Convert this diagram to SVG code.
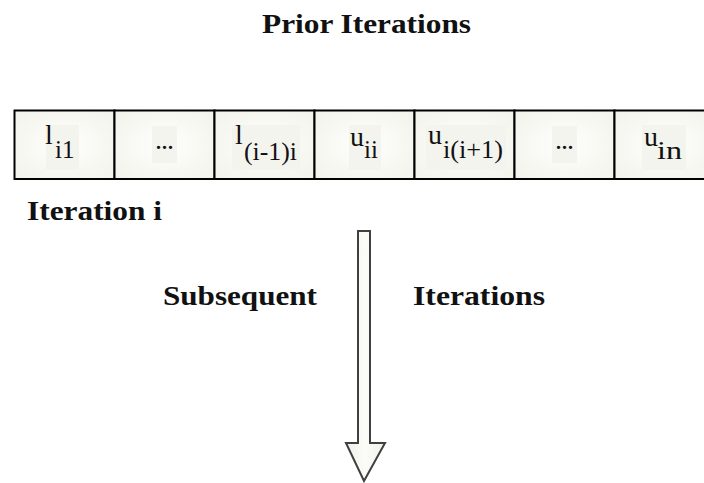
<svg xmlns="http://www.w3.org/2000/svg" width="704" height="483" viewBox="0 0 704 483">
<defs>
<radialGradient id="cellg" cx="50%" cy="50%" r="70%">
<stop offset="0" stop-color="#fefefc"/>
<stop offset="1" stop-color="#f3f3ec"/>
</radialGradient>
<linearGradient id="arrg" x1="0" y1="0" x2="1" y2="0">
<stop offset="0" stop-color="#f1f1ea"/>
<stop offset="0.5" stop-color="#fbfbf8"/>
<stop offset="1" stop-color="#f1f1ea"/>
</linearGradient>
</defs>
<style>
.cell{fill:url(#cellg);stroke:#000;stroke-width:2}
.lbg{fill:#f4f4ef}
.main{font-family:"Liberation Serif","Times New Roman",serif;font-size:28px;fill:#111}
.sub{font-family:"Liberation Serif","Times New Roman",serif;font-size:25px;fill:#111}
.title{font-family:"Liberation Serif","Times New Roman",serif;font-size:27px;font-weight:bold;fill:#111}
.arrow{fill:url(#arrg);stroke:#404040;stroke-width:2;stroke-linejoin:miter}
</style>
<rect width="704" height="483" fill="#fff"/>
<text class="title" x="262" y="33" textLength="209" lengthAdjust="spacingAndGlyphs">Prior Iterations</text>
<g id="cell1">
<rect class="cell" x="14.5" y="110.5" width="100" height="68.5"/>
<rect class="lbg" x="46" y="125" width="33" height="45"/>
<text class="main" x="45" y="144">l</text>
<text class="sub" x="55" y="158">i1</text>
</g>
<g id="cell2">
<rect class="cell" x="114.5" y="110.5" width="100" height="68.5"/>
<rect class="lbg" x="152" y="126" width="25" height="37"/>
<text class="main" x="155" y="149" textLength="19" lengthAdjust="spacing">...</text>
</g>
<g id="cell3">
<rect class="cell" x="214.5" y="110.5" width="100" height="68.5"/>
<rect class="lbg" x="232" y="125" width="68" height="45"/>
<text class="main" x="235" y="144">l</text>
<text class="sub" x="244" y="160" textLength="53" lengthAdjust="spacingAndGlyphs">(i-1)i</text>
</g>
<g id="cell4">
<rect class="cell" x="314.5" y="110.5" width="100" height="68.5"/>
<rect class="lbg" x="349" y="125" width="32" height="45"/>
<text class="main" x="350" y="146">u</text>
<text class="sub" x="364" y="158">ii</text>
</g>
<g id="cell5">
<rect class="cell" x="414.5" y="110.5" width="100" height="68.5"/>
<rect class="lbg" x="426" y="125" width="80" height="45"/>
<text class="main" x="428" y="144">u</text>
<text class="sub" x="443" y="158" textLength="60" lengthAdjust="spacingAndGlyphs">i(i+1)</text>
</g>
<g id="cell6">
<rect class="cell" x="514.5" y="110.5" width="100" height="68.5"/>
<rect class="lbg" x="552" y="126" width="25" height="37"/>
<text class="main" x="555" y="149" textLength="19" lengthAdjust="spacing">...</text>
</g>
<g id="cell7">
<rect class="cell" x="614.5" y="110.5" width="100" height="68.5"/>
<rect class="lbg" x="642" y="125" width="44" height="45"/>
<text class="main" x="644" y="146">u</text>
<text class="sub" x="657" y="159" textLength="25" lengthAdjust="spacingAndGlyphs">in</text>
</g>
<text class="title" x="27" y="220" textLength="135" lengthAdjust="spacingAndGlyphs">Iteration i</text>
<g id="connectors">
<polygon class="arrow" points="358,231 370,231 370,443 385,443 364,481 346,443 358,443"/>
</g>
<text class="title" x="163" y="305" textLength="154" lengthAdjust="spacingAndGlyphs">Subsequent</text>
<text class="title" x="413" y="305" textLength="132" lengthAdjust="spacingAndGlyphs">Iterations</text>
</svg>
